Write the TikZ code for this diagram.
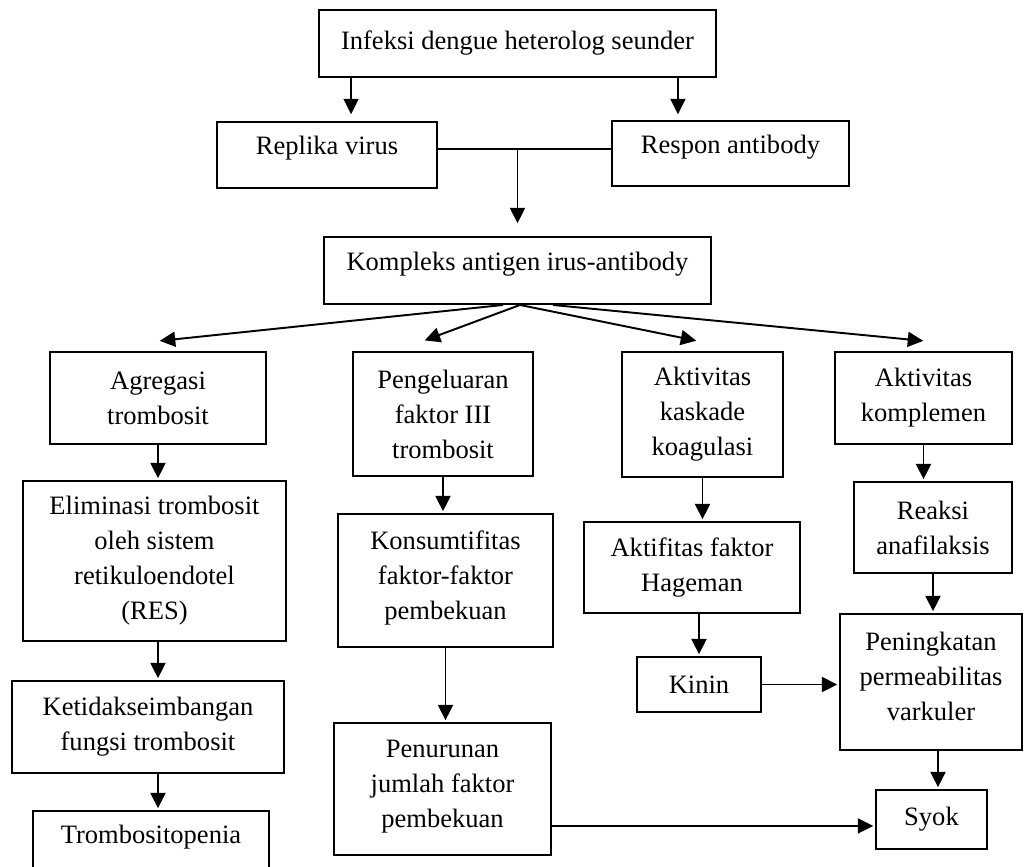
\documentclass[tikz,border=0pt]{standalone}
\usepackage{fontspec}
\setmainfont{Liberation Serif}
\usetikzlibrary{arrows.meta,calc}

\tikzset{
  box/.style={draw, line width=1.1pt, inner sep=0pt, align=center,
    font=\fontsize{15.1}{19.9}\selectfont},
  lift/.style={text depth=#1},
  arr/.style={-{Triangle[length=3.1mm,width=3mm]}, line width=1.1pt, shorten >=1pt},
  link/.style={line width=1.1pt},
}

\begin{document}
\begin{tikzpicture}
\clip (0,0) rectangle (20.48,-17.34);
% Top of the chart
\node[box, minimum width=7.94cm, minimum height=1.34cm] (inf) at (10.35,-0.87) {Infeksi dengue heterolog seunder};
\node[box, lift=11pt, minimum width=4.40cm, minimum height=1.32cm] (rep) at (6.54,-3.10) {Replika virus};
\node[box, lift=11pt, minimum width=4.74cm, minimum height=1.30cm] (res) at (14.61,-3.07) {Respon antibody};
\node[box, lift=11pt, minimum width=7.74cm, minimum height=1.34cm] (kom) at (10.35,-5.41) {Kompleks antigen irus-antibody};
% Second row
\node[box, minimum width=4.32cm, minimum height=1.84cm] (agr) at (3.16,-7.96) {Agregasi\\trombosit};
\node[box, minimum width=3.60cm, minimum height=2.48cm] (pen) at (8.86,-8.28) {Pengeluaran\\faktor III\\trombosit};
\node[box, minimum width=3.22cm, minimum height=2.50cm] (kas) at (14.05,-8.29) {Aktivitas\\kaskade\\koagulasi};
\node[box, minimum width=3.54cm, minimum height=1.84cm] (kmp) at (18.47,-7.96) {Aktivitas\\komplemen};
% Left column
\node[box, minimum width=5.26cm, minimum height=3.20cm] (eli) at (3.09,-11.22) {Eliminasi trombosit\\oleh sistem\\retikuloendotel\\(RES)};
\node[box, minimum width=5.44cm, minimum height=1.84cm] (ket) at (2.96,-14.54) {Ketidakseimbangan\\fungsi trombosit};
\node[box, lift=11pt, minimum width=4.72cm, minimum height=1.32cm] (tro) at (3.02,-16.88) {Trombositopenia};
% Middle columns
\node[box, lift=6pt, minimum width=4.30cm, minimum height=2.66cm] (kon) at (8.91,-11.61) {Konsumtifitas\\faktor-faktor\\pembekuan};
\node[box, lift=6pt, minimum width=4.34cm, minimum height=2.64cm] (pnr) at (8.85,-15.78) {Penurunan\\jumlah faktor\\pembekuan};
\node[box, minimum width=4.32cm, minimum height=1.82cm] (hag) at (13.84,-11.35) {Aktifitas faktor\\Hageman};
\node[box, minimum width=2.48cm, minimum height=1.10cm] (kin) at (13.98,-13.69) {Kinin};
% Right column
\node[box, minimum width=3.16cm, minimum height=1.82cm] (rea) at (18.66,-10.55) {Reaksi\\anafilaksis};
\node[box, lift=6pt, minimum width=3.64cm, minimum height=2.72cm] (pm) at (18.62,-13.64) {Peningkatan\\permeabilitas\\varkuler};
\node[box, minimum width=2.22cm, minimum height=1.18cm] (syo) at (18.63,-16.39) {Syok};

% Connectors at the top
\coordinate (t1) at ($(inf.south west)+(0.66,0)$);
\coordinate (t2) at ($(inf.south east)+(-0.78,0)$);
\draw[arr] (t1) -- ($(t1 |- rep.north)+(0,0.10)$);
\draw[arr] (t2) -- ($(t2 |- res.north)+(0,0.08)$);
\coordinate (j) at ($(rep.east)+(0,0.12)$);
\draw[link] (j) -- (j -| res.west);
\draw[arr] (j -| kom.north) -- ($(kom.north)+(0,0.22)$);
% Fan out of the complex
\draw[arr] ($(kom.south)+(-0.29,0)$) -- ($(agr.north)+(0,0.20)$);
\draw[arr] ($(kom.south)+(0.05,0)$) -- ($(pen.north)+(-0.40,0.20)$);
\draw[arr] ($(kom.south)+(0.05,0)$) -- ($(kas.north)+(-0.09,0.20)$);
\draw[arr] ($(kom.south)+(0.71,0)$) -- ($(kmp.north)+(0.03,0.20)$);
% Columns
\draw[arr] (agr.south) -- (agr.south |- eli.north);
\draw[arr] (agr.south |- eli.south) -- (agr.south |- ket.north);
\draw[arr] (agr.south |- ket.south) -- (agr.south |- tro.north);
\draw[arr] (pen.south) -- (pen.south |- kon.north);
\draw[arr] (kon.south) -- (kon.south |- pnr.north);
\draw[arr] (kas.south) -- (kas.south |- hag.north);
\draw[arr] (kin.north |- hag.south) -- (kin.north);
\draw[arr] (kmp.south) -- (kmp.south |- rea.north);
\draw[arr] (rea.south) -- (rea.south |- pm.north);
\coordinate (s1) at ($(pm.south)+(0.14,0)$);
\draw[arr] (s1) -- (s1 |- syo.north);
% Into the right column
\draw[arr] (kin.east) -- (kin.east -| pm.west);
\coordinate (p1) at ($(pnr.south east)+(0,0.60)$);
\draw[arr] (p1) -- (p1 -| syo.west);
\end{tikzpicture}
\end{document}
